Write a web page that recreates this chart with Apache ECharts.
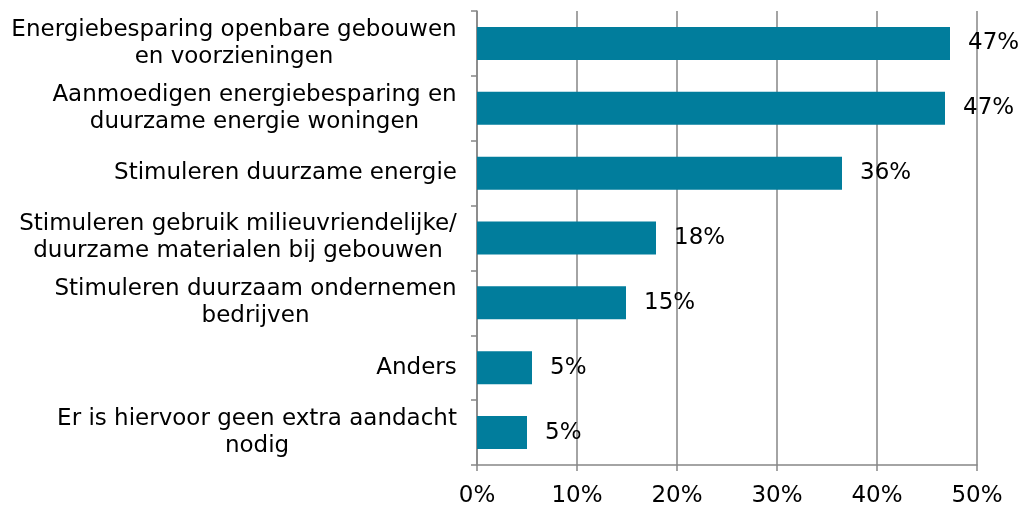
<!DOCTYPE html>
<html>
<head>
<meta charset="utf-8">
<script src="https://cdn.jsdelivr.net/npm/echarts@6/dist/echarts.min.js"></script>
<style>
  html, body { margin: 0; padding: 0; background: #fff; }
  #chart { width: 1023px; height: 508px; }
</style>
</head>
<body>
<div id="chart"></div>
<script>
// categories, top to bottom
const categories = [
  'Energiebesparing openbare gebouwen\nen voorzieningen',
  'Aanmoedigen energiebesparing en\nduurzame energie woningen',
  'Stimuleren duurzame energie',
  'Stimuleren gebruik milieuvriendelijke/\nduurzame materialen bij gebouwen',
  'Stimuleren duurzaam ondernemen\nbedrijven',
  'Anders',
  'Er is hiervoor geen extra aandacht\nnodig'
];
const values = [47.3, 46.8, 36.5, 17.9, 14.9, 5.5, 5.0];
const valueLabels = ['47%', '47%', '36%', '18%', '15%', '5%', '5%'];
const xTicks = [0, 10, 20, 30, 40, 50];

const FONT = 'DejaVu Sans';
const FSIZE = 23;

// measure lines so two-line labels can be centred on each other
const ctx = document.createElement('canvas').getContext('2d');
ctx.font = FSIZE + 'px "' + FONT + '"';
const rich = {};
categories.forEach((c, i) => {
  const w = Math.max(...c.split('\n').map(l => ctx.measureText(l).width));
  rich['l' + i] = { width: Math.ceil(w), align: 'center', fontFamily: FONT, fontSize: FSIZE, color: '#000', lineHeight: 27 };
});

const chart = echarts.init(document.getElementById('chart'));
chart.setOption({
  animation: false,
  grid: { left: 477, right: 46, top: 11, bottom: 42 },
  xAxis: {
    type: 'value',
    min: xTicks[0],
    max: xTicks[xTicks.length - 1],
    interval: 10,
    axisLine: { show: true, lineStyle: { color: '#868686', width: 1.5 } },
    axisTick: { show: true, length: 6, lineStyle: { color: '#868686', width: 1.5 } },
    splitLine: { show: true, lineStyle: { color: '#868686', width: 1.5 } },
    axisLabel: {
      formatter: v => v + '%',
      fontFamily: FONT, fontSize: FSIZE, color: '#000', margin: 20
    }
  },
  yAxis: {
    type: 'category',
    inverse: true,
    data: categories,
    axisLine: { show: true, lineStyle: { color: '#868686', width: 1.5 } },
    axisTick: { show: true, length: 6, lineStyle: { color: '#868686', width: 1.5 } },
    axisLabel: {
      margin: 20,
      align: 'right',
      fontFamily: FONT, fontSize: FSIZE, color: '#000',
      formatter: (v, i) => v.split('\n').map(l => '{l' + i + '|' + l + '}').join('\n'),
      rich: rich
    }
  },
  series: [{
    type: 'bar',
    data: values,
    barWidth: 33,
    itemStyle: { color: '#017d9c' },
    label: {
      show: true,
      position: 'right',
      distance: 18,
      fontFamily: FONT, fontSize: FSIZE, color: '#000',
      formatter: p => valueLabels[p.dataIndex]
    }
  }]
});
</script>
</body>
</html>
